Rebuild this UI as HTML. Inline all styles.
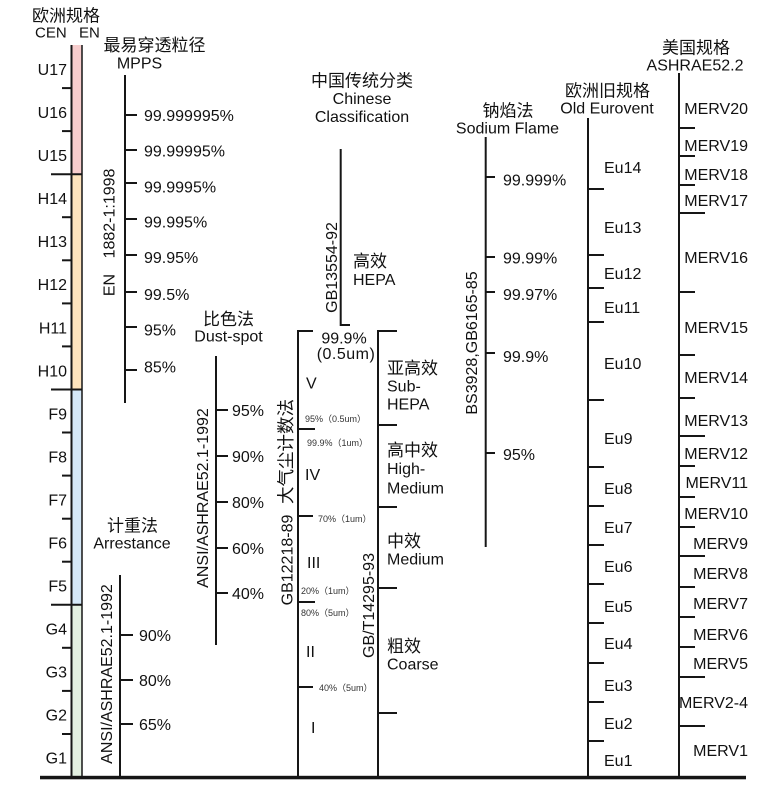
<!DOCTYPE html>
<html><head><meta charset="utf-8"><style>
html,body{margin:0;padding:0;background:#fff;}
svg{display:block;}
text{font-family:"Liberation Sans","Noto Sans CJK SC",sans-serif;fill:#111;}
.c{font-size:17px;}
.l{font-size:16px;}
.s{font-size:9px;fill:#333;}
</style></head><body>
<svg width="784" height="793" viewBox="0 0 784 793" xmlns="http://www.w3.org/2000/svg">
<g stroke="none">
<rect x="72" y="45" width="10" height="129.2" fill="#f7cdcd"/>
<rect x="72" y="174.2" width="10" height="215.3" fill="#fde3bd"/>
<rect x="72" y="389.5" width="10" height="215.3" fill="#d5e8f7"/>
<rect x="72" y="604.8" width="10" height="172.2" fill="#e3f0e1"/>
</g>
<g stroke="#161616" stroke-width="2" fill="none">
<line x1="71.5" y1="45" x2="71.5" y2="777"/>
<line x1="82" y1="45" x2="82" y2="777" stroke-width="1.5"/>
<!-- short ticks -->
<line x1="62" y1="88.1" x2="71" y2="88.1"/>
<line x1="62" y1="131.1" x2="71" y2="131.1"/>
<line x1="51" y1="174.2" x2="82" y2="174.2"/>
<line x1="62" y1="217.2" x2="71" y2="217.2"/>
<line x1="62" y1="260.3" x2="71" y2="260.3"/>
<line x1="62" y1="303.4" x2="71" y2="303.4"/>
<line x1="62" y1="346.4" x2="71" y2="346.4"/>
<line x1="51" y1="389.5" x2="82" y2="389.5"/>
<line x1="62" y1="432.5" x2="71" y2="432.5"/>
<line x1="62" y1="475.6" x2="71" y2="475.6"/>
<line x1="62" y1="518.7" x2="71" y2="518.7"/>
<line x1="62" y1="561.7" x2="71" y2="561.7"/>
<line x1="51" y1="604.8" x2="82" y2="604.8"/>
<line x1="62" y1="647.8" x2="71" y2="647.8"/>
<line x1="62" y1="690.9" x2="71" y2="690.9"/>
<line x1="62" y1="734" x2="71" y2="734"/>

<!-- MPPS axis -->
<line x1="125" y1="75" x2="125" y2="403"/>
<line x1="125" y1="115" x2="137" y2="115"/>
<line x1="125" y1="150" x2="137" y2="150"/>
<line x1="125" y1="183" x2="137" y2="183"/>
<line x1="125" y1="219" x2="137" y2="219"/>
<line x1="125" y1="255" x2="137" y2="255"/>
<line x1="125" y1="292" x2="137" y2="292"/>
<line x1="125" y1="327" x2="137" y2="327"/>
<line x1="125" y1="370" x2="137" y2="370"/>

<!-- Dust-spot axis -->
<line x1="216" y1="356" x2="216" y2="645"/>
<line x1="216" y1="410" x2="228" y2="410"/>
<line x1="216" y1="456" x2="228" y2="456"/>
<line x1="216" y1="502" x2="228" y2="502"/>
<line x1="216" y1="548" x2="228" y2="548"/>
<line x1="216" y1="593" x2="228" y2="593"/>

<!-- Arrestance axis -->
<line x1="120" y1="575" x2="120" y2="777"/>
<line x1="120" y1="635" x2="133" y2="635"/>
<line x1="120" y1="680" x2="133" y2="680"/>
<line x1="120" y1="724" x2="133" y2="724"/>

<!-- Chinese classification -->
<polyline points="340.7,149 340.7,325 350,325"/>
<polyline points="313,331 298,331 298,777"/>
<polyline points="397,331 378,331 378,777"/>
<line x1="298" y1="429" x2="315" y2="429"/>
<line x1="298" y1="516" x2="313" y2="516"/>
<line x1="298" y1="602" x2="315" y2="602"/>
<line x1="298" y1="687" x2="313" y2="687"/>
<line x1="378" y1="425" x2="397" y2="425"/>
<line x1="378" y1="507" x2="397" y2="507"/>
<line x1="378" y1="588" x2="397" y2="588"/>
<line x1="378" y1="713" x2="397" y2="713"/>

<!-- Sodium -->
<line x1="485.7" y1="137" x2="485.7" y2="547"/>
<line x1="486" y1="177" x2="495" y2="177"/>
<line x1="486" y1="257" x2="495" y2="257"/>
<line x1="486" y1="292" x2="495" y2="292"/>
<line x1="486" y1="353" x2="495" y2="353"/>
<line x1="486" y1="453" x2="495" y2="453"/>

<!-- Old Eurovent -->
<line x1="588" y1="118" x2="588" y2="777"/>
<line x1="588" y1="189" x2="604" y2="189"/>
<line x1="588" y1="255" x2="604" y2="255"/>
<line x1="588" y1="288" x2="604" y2="288"/>
<line x1="588" y1="322" x2="604" y2="322"/>
<line x1="588" y1="400" x2="604" y2="400"/>
<line x1="588" y1="467" x2="604" y2="467"/>
<line x1="588" y1="506" x2="604" y2="506"/>
<line x1="588" y1="545" x2="604" y2="545"/>
<line x1="588" y1="584" x2="604" y2="584"/>
<line x1="588" y1="623" x2="604" y2="623"/>
<line x1="588" y1="663" x2="604" y2="663"/>
<line x1="588" y1="702" x2="604" y2="702"/>
<line x1="588" y1="741" x2="604" y2="741"/>

<!-- MERV -->
<line x1="679" y1="73" x2="679" y2="777"/>
<line x1="679" y1="128" x2="695" y2="128"/>
<line x1="679" y1="156" x2="695" y2="156"/>
<line x1="679" y1="185" x2="695" y2="185"/>
<line x1="679" y1="213" x2="705" y2="213"/>
<line x1="679" y1="292" x2="695" y2="292"/>
<line x1="679" y1="355" x2="695" y2="355"/>
<line x1="679" y1="398" x2="695" y2="398"/>
<line x1="679" y1="436" x2="705" y2="436"/>
<line x1="679" y1="466" x2="695" y2="466"/>
<line x1="679" y1="497" x2="695" y2="497"/>
<line x1="679" y1="527" x2="695" y2="527"/>
<line x1="679" y1="556" x2="705" y2="556"/>
<line x1="679" y1="587" x2="695" y2="587"/>
<line x1="679" y1="617" x2="695" y2="617"/>
<line x1="679" y1="647" x2="695" y2="647"/>
<line x1="679" y1="677" x2="705" y2="677"/>
<line x1="679" y1="726" x2="705" y2="726"/>
</g>
<rect x="40" y="775.8" width="706" height="3.5" fill="#161616"/>

<!-- Left header -->
<text class="c" x="66" y="21.5" text-anchor="middle">欧洲规格</text>
<text x="35" y="37.5" style="font-size:15px">CEN</text>
<text x="79" y="37.5" style="font-size:15px">EN</text>

<g class="l" text-anchor="end">
<text x="67" y="75">U17</text>
<text x="67" y="118">U16</text>
<text x="67" y="161">U15</text>
<text x="67" y="204">H14</text>
<text x="67" y="247">H13</text>
<text x="67" y="290">H12</text>
<text x="67" y="333.5">H11</text>
<text x="67" y="376.5">H10</text>
<text x="67" y="419.5">F9</text>
<text x="67" y="462.5">F8</text>
<text x="67" y="505.5">F7</text>
<text x="67" y="548.5">F6</text>
<text x="67" y="591.5">F5</text>
<text x="67" y="634.5">G4</text>
<text x="67" y="677.5">G3</text>
<text x="67" y="720.5">G2</text>
<text x="67" y="763.5">G1</text>
</g>

<!-- MPPS -->
<text class="c" x="154.5" y="51" text-anchor="middle">最易穿透粒径</text>
<text class="l" x="139.5" y="68.5" text-anchor="middle">MPPS</text>
<g class="l">
<text x="144" y="121">99.999995%</text>
<text x="144" y="156.5">99.99995%</text>
<text x="144" y="192.5">99.9995%</text>
<text x="144" y="227.5">99.995%</text>
<text x="144" y="263">99.95%</text>
<text x="144" y="300">99.5%</text>
<text x="144" y="335.5">95%</text>
<text x="144" y="372.5">85%</text>
</g>
<text class="l" transform="translate(114.5,285) rotate(-90)" text-anchor="middle">EN</text>
<text class="l" transform="translate(114.5,213.5) rotate(-90)" text-anchor="middle">1882-1:1998</text>

<!-- Dust-spot -->
<text class="c" x="228.5" y="325" text-anchor="middle">比色法</text>
<text class="l" x="228.5" y="341.5" text-anchor="middle">Dust-spot</text>
<g class="l">
<text x="232" y="416">95%</text>
<text x="232" y="462">90%</text>
<text x="232" y="508">80%</text>
<text x="232" y="554">60%</text>
<text x="232" y="599">40%</text>
</g>
<text class="l" transform="translate(208,498) rotate(-90)" text-anchor="middle">ANSI/ASHRAE52.1-1992</text>

<!-- Arrestance -->
<text class="c" x="132.5" y="531.5" text-anchor="middle">计重法</text>
<text class="l" x="132" y="548.5" text-anchor="middle">Arrestance</text>
<g class="l">
<text x="139" y="641">90%</text>
<text x="139" y="686">80%</text>
<text x="139" y="730">65%</text>
</g>
<text class="l" transform="translate(112,674) rotate(-90)" text-anchor="middle">ANSI/ASHRAE52.1-1992</text>

<!-- Chinese classification -->
<text class="c" x="362" y="86.5" text-anchor="middle">中国传统分类</text>
<text class="l" x="362" y="104" text-anchor="middle">Chinese</text>
<text class="l" x="362" y="122" text-anchor="middle">Classification</text>
<text class="l" transform="translate(337,267.5) rotate(-90)" text-anchor="middle">GB13554-92</text>
<text class="c" x="353" y="267">高效</text>
<text class="l" x="353" y="285">HEPA</text>
<text class="l" x="344" y="343.5" text-anchor="middle">99.9%</text>
<text class="l" x="346" y="359" text-anchor="middle" letter-spacing="0.5">(0.5um)</text>
<text class="l" x="306" y="388.5">V</text>
<text class="s" x="305" y="422">95%（0.5um）</text>
<text class="s" x="307" y="446">99.9%（1um）</text>
<text class="l" x="305" y="480">IV</text>
<text class="s" x="318" y="522">70%（1um）</text>
<text class="l" x="307" y="568">III</text>
<text class="s" x="301" y="594">20%（1um）</text>
<text class="s" x="301" y="616">80%（5um）</text>
<text class="l" x="306" y="657">II</text>
<text class="s" x="319" y="691">40%（5um）</text>
<text class="l" x="311" y="733">I</text>
<text class="l" transform="translate(292.5,560) rotate(-90)" text-anchor="middle">GB12218-89</text>
<text transform="translate(292,451.5) rotate(-90)" text-anchor="middle" style="font-size:17.5px">大气尘计数法</text>
<text class="l" transform="translate(374,605.5) rotate(-90)" text-anchor="middle">GB/T14295-93</text>

<text class="c" x="387" y="374">亚高效</text>
<text class="l" x="387" y="391.5">Sub-</text>
<text class="l" x="387" y="409.5">HEPA</text>
<text class="c" x="387" y="456">高中效</text>
<text class="l" x="387" y="474">High-</text>
<text class="l" x="387" y="493.5">Medium</text>
<text class="c" x="387" y="547">中效</text>
<text class="l" x="387" y="564.5">Medium</text>
<text class="c" x="387" y="652">粗效</text>
<text class="l" x="387" y="669.5">Coarse</text>

<!-- Sodium -->
<text class="c" x="508" y="116.5" text-anchor="middle">钠焰法</text>
<text class="l" x="507.5" y="133.5" text-anchor="middle">Sodium Flame</text>
<g class="l">
<text x="503" y="185.5">99.999%</text>
<text x="503" y="263.5">99.99%</text>
<text x="503" y="300">99.97%</text>
<text x="503" y="362">99.9%</text>
<text x="503" y="460">95%</text>
</g>
<text class="l" transform="translate(477,343) rotate(-90)" text-anchor="middle">BS3928,GB6165-85</text>

<!-- Old Eurovent -->
<text class="c" x="607.5" y="96.5" text-anchor="middle">欧洲旧规格</text>
<text class="l" x="607" y="113.5" text-anchor="middle">Old Eurovent</text>
<g class="l">
<text x="604" y="173">Eu14</text>
<text x="604" y="233">Eu13</text>
<text x="604" y="279">Eu12</text>
<text x="604" y="313">Eu11</text>
<text x="604" y="369">Eu10</text>
<text x="604" y="444">Eu9</text>
<text x="604" y="494">Eu8</text>
<text x="604" y="533">Eu7</text>
<text x="604" y="572">Eu6</text>
<text x="604" y="612">Eu5</text>
<text x="604" y="649">Eu4</text>
<text x="604" y="691">Eu3</text>
<text x="604" y="729">Eu2</text>
<text x="604" y="766">Eu1</text>
</g>

<!-- MERV -->
<text class="c" x="696" y="53.5" text-anchor="middle">美国规格</text>
<text class="l" x="695" y="70.5" text-anchor="middle">ASHRAE52.2</text>
<g class="l" text-anchor="end">
<text x="748" y="114">MERV20</text>
<text x="748" y="151">MERV19</text>
<text x="748" y="180">MERV18</text>
<text x="748" y="206">MERV17</text>
<text x="748" y="263">MERV16</text>
<text x="748" y="333">MERV15</text>
<text x="748" y="383">MERV14</text>
<text x="748" y="426">MERV13</text>
<text x="748" y="459">MERV12</text>
<text x="748" y="488">MERV11</text>
<text x="748" y="519">MERV10</text>
<text x="748" y="549">MERV9</text>
<text x="748" y="579">MERV8</text>
<text x="748" y="609">MERV7</text>
<text x="748" y="640">MERV6</text>
<text x="748" y="669">MERV5</text>
<text x="748" y="708">MERV2-4</text>
<text x="748" y="756">MERV1</text>
</g>
</svg>
</body></html>
